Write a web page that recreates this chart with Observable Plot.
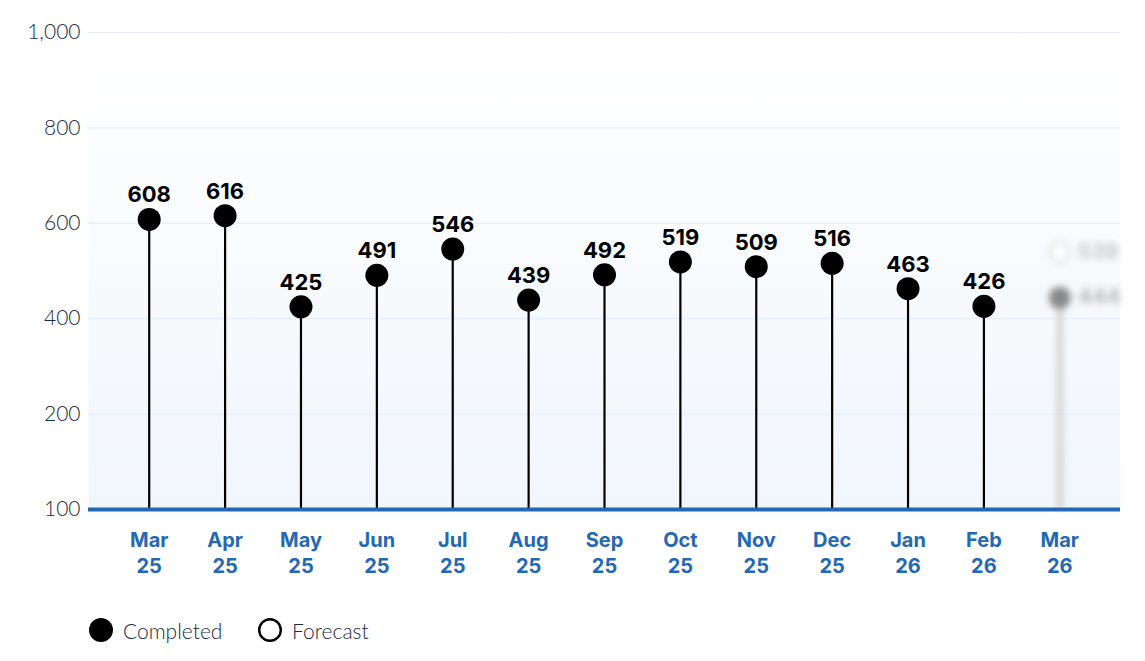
<!DOCTYPE html>
<html><head><meta charset="utf-8">
<script src="https://cdn.jsdelivr.net/npm/d3@7"></script>
<script src="https://cdn.jsdelivr.net/npm/@observablehq/plot@0.6"></script>
<style>
body{margin:0;background:#fff;font-family:Inter, "Noto Sans", sans-serif;}
#legend{position:relative;height:61px;}
.item{position:absolute;top:17px;display:flex;align-items:center;font-family:Lato, sans-serif;font-size:21px;font-weight:300;color:#1b2a3d;}
.item svg{margin-right:9px;}
</style></head><body>
<svg width="0" height="0" style="position:absolute">
  <defs>
    <linearGradient id="bgGrad" x1="0" y1="0" x2="0" y2="1">
      <stop offset="0%" stop-color="#ffffff"/>
      <stop offset="100%" stop-color="#f1f6fb"/>
    </linearGradient>
    <filter id="blurF" filterUnits="userSpaceOnUse" x="0" y="0" width="1145" height="600">
      <feGaussianBlur stdDeviation="3.5"/>
    </filter>
  </defs>
</svg>
<div id="chart"></div>
<div id="legend">
  <div class="item" style="left:88px"><svg width="26" height="26"><circle cx="13" cy="13" r="12" fill="#000"/></svg>Completed</div>
  <div class="item" style="left:257px"><svg width="26" height="26"><circle cx="13" cy="13" r="10.8" fill="#fff" stroke="#000" stroke-width="2.4"/></svg>Forecast</div>
</div>
<script>
const months = ["Mar 25","Apr 25","May 25","Jun 25","Jul 25","Aug 25","Sep 25","Oct 25","Nov 25","Dec 25","Jan 26","Feb 26","Mar 26"];
const completedMonths = months.slice(0, 12);
const completed = [608,616,425,491,546,439,492,519,509,516,463,426];
const forecastMonth = ["Mar 26"];
const forecastOpen = [539];
const forecastPartial = [444];
const yTicks = [0,200,400,600,800,1000];
const yTickLabels = ["100","200","400","600","800","1,000"];

const data = completedMonths.map((m, i) => ({month: m, value: completed[i]}));
const fOpen = forecastMonth.map((m, i) => ({month: m, value: forecastOpen[i]}));
const fPart = forecastMonth.map((m, i) => ({month: m, value: forecastPartial[i]}));

const blur = (index, scales, values, dimensions, context, next) => {
  const g = next(index, scales, values, dimensions, context);
  g.setAttribute("filter", "url(#blurF)");
  return g;
};
const gradFill = (index, scales, values, dimensions, context, next) => {
  const g = next(index, scales, values, dimensions, context);
  g.querySelectorAll("rect").forEach(r => r.setAttribute("fill", "url(#bgGrad)"));
  if (g.tagName === "rect") g.setAttribute("fill", "url(#bgGrad)");
  return g;
};

const chart = Plot.plot({
  width: 1145,
  height: 600,
  marginLeft: 88,
  marginRight: 25,
  marginTop: 32,
  marginBottom: 91,
  style: {fontFamily: "Inter, 'Noto Sans', sans-serif", background: "transparent", overflow: "visible"},
  x: {type: "point", domain: months, padding: 0.8, round: false, label: null},
  y: {domain: [0, 1000], label: null},
  marks: [
    Plot.frame({fill: "#f4f8fc", render: gradFill}),
    Plot.gridY(yTicks, {stroke: "#e4eef8", strokeOpacity: 1, strokeWidth: 1.2}),
    Plot.axisY({ticks: yTicks, label: null, tickFormat: d => yTickLabels[yTicks.indexOf(d)], tickSize: 0, tickPadding: 8, fontSize: 21, fontWeight: 300, fontFamily: "Lato, sans-serif", fill: "#1b2a3d"}),
    Plot.axisX({label: null, tickSize: 0, tickPadding: 19, fontSize: 20, fontWeight: 700, fill: "#2468b4", lineHeight: 1.3, tickFormat: d => d.replace(" ", "\n")}),
    // forecast (blurred)
    Plot.ruleX(fPart, {x: "month", y1: 0, y2: "value", stroke: "#cfcfcf", strokeWidth: 6, render: blur}),
    Plot.dot(fOpen, {x: "month", y: "value", r: 10, fill: "#fff", stroke: "#ddd", strokeWidth: 3, render: blur}),
    Plot.dot(fPart, {x: "month", y: "value", r: 11, fill: "#888", render: blur}),
    Plot.text(fOpen, {x: "month", y: "value", text: d => String(d.value), dx: 18, textAnchor: "start", fontSize: 21, fontWeight: 700, fill: "#c4c4c4", render: blur}),
    Plot.text(fPart, {x: "month", y: "value", text: d => String(d.value), dx: 18, textAnchor: "start", fontSize: 21, fontWeight: 700, fill: "#b4b4b4", render: blur}),
    // completed
    Plot.ruleX(data, {x: "month", y1: 0, y2: "value", stroke: "#000", strokeWidth: 2.2}),
    Plot.ruleY([0], {stroke: "#2468b4", strokeWidth: 4}),
    Plot.dot(data, {x: "month", y: "value", r: 11.5, fill: "#000"}),
    Plot.text(data, {x: "month", y: "value", text: d => String(d.value), dy: -17, lineAnchor: "bottom", fontSize: 22, fontWeight: 700, fill: "#000"})
  ]
});

document.getElementById("chart").appendChild(chart);
</script>
</body></html>
